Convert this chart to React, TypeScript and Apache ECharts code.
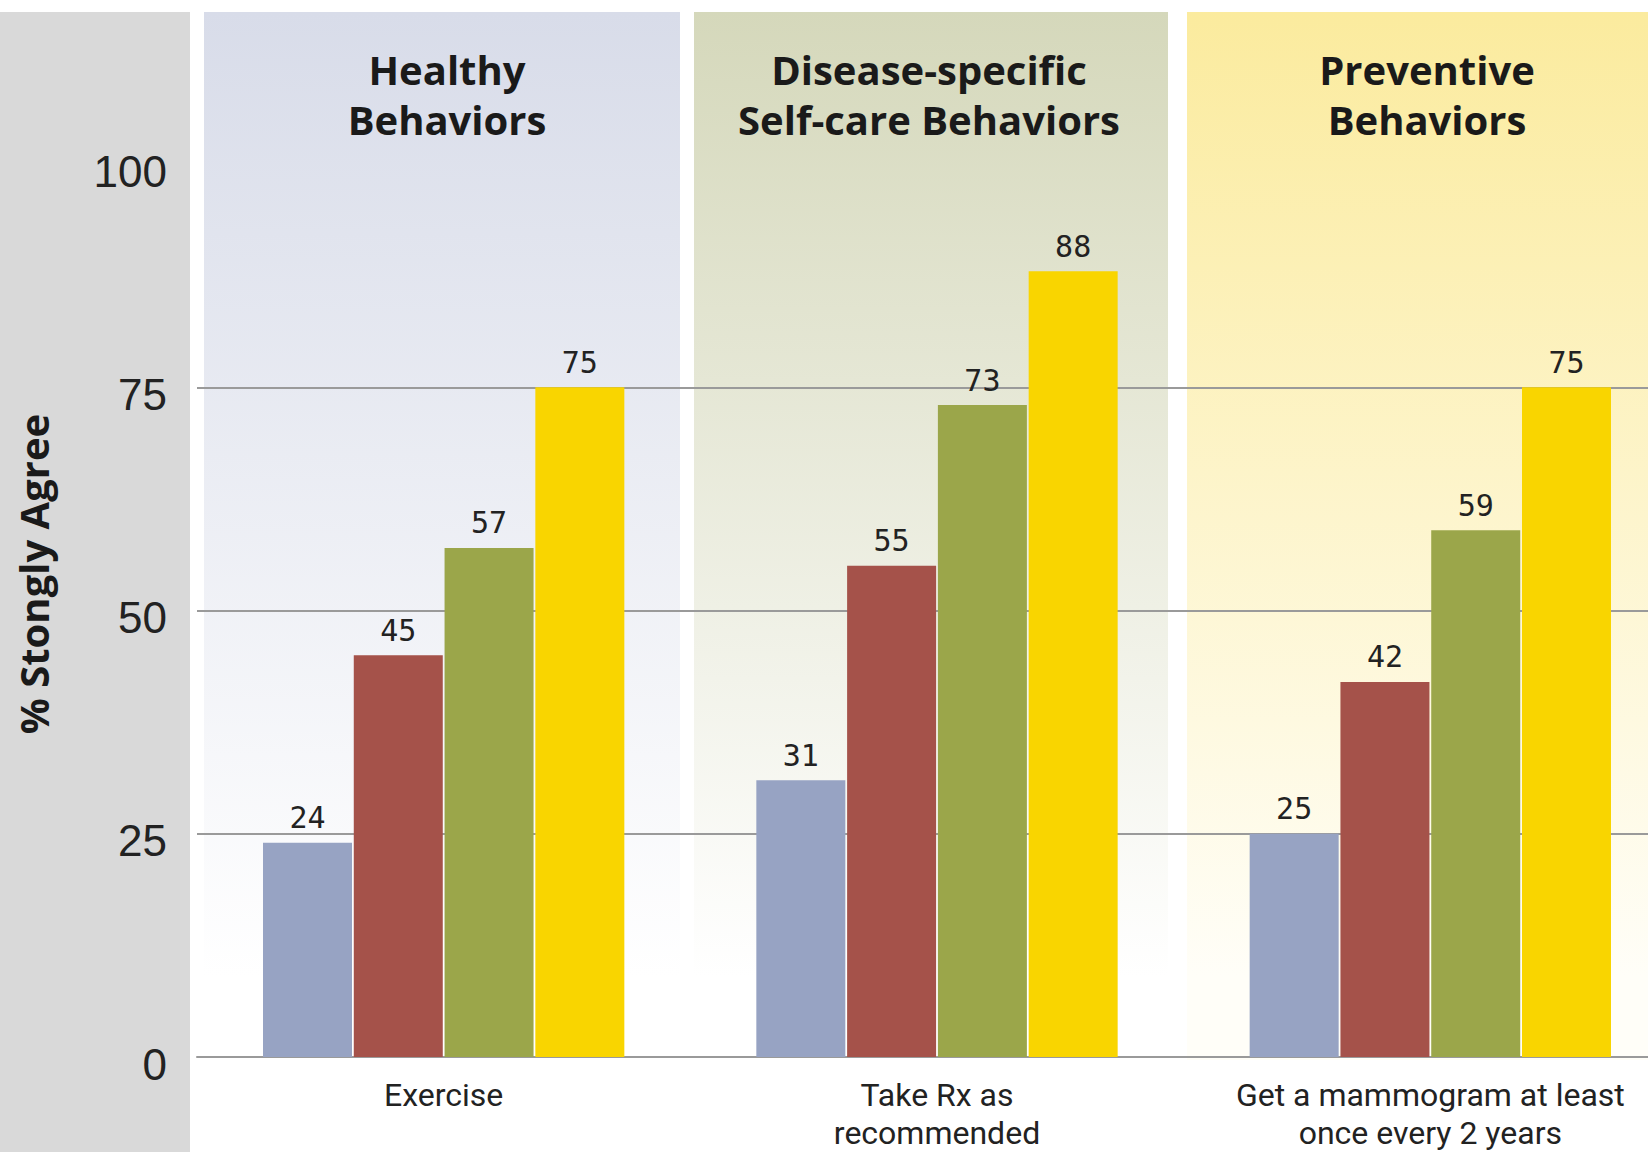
import React, { useEffect, useRef } from "react";
import * as echarts from "echarts";

const categories = ["Exercise", "Take Rx as\nrecommended", "Get a mammogram at least\nonce every 2 years"];
const panelTitles = ["Healthy\nBehaviors", "Disease-specific\nSelf-care Behaviors", "Preventive\nBehaviors"];
const seriesNames = ["Level 1", "Level 2", "Level 3", "Level 4"];
const level1 = [24, 31, 25];
const level2 = [45, 55, 42];
const level3 = [57, 73, 59];
const level4 = [75, 88, 75];
const yTicks = [0, 25, 50, 75, 100];
const yAxisTitle = "% Stongly Agree";

const barColors = ["#97a3c3", "#a5524a", "#9ba64a", "#f9d500"];

export default function App() {
  const ref = useRef<HTMLDivElement>(null);
  useEffect(() => {
    document.body.style.margin = "0";
    document.body.style.overflow = "hidden";
    document.documentElement.style.overflow = "hidden";
    if (!ref.current) return;
    const chart = echarts.init(ref.current, null, { renderer: "svg" });
    const values = [level1, level2, level3, level4];
    const grad = (top: string, bottom: string) =>
      new echarts.graphic.LinearGradient(0, 0, 0, 1, [
        { offset: 0, color: top },
        { offset: 0.92, color: bottom },
        { offset: 1, color: bottom },
      ]);
    const titleX = [447, 929, 1427];
    chart.setOption({
      animation: false,
      backgroundColor: "#ffffff",
      graphic: [
        { type: "rect", z: -10, shape: { x: 0, y: 12, width: 190, height: 1140 }, style: { fill: "#d9d9d9" } },
        { type: "rect", z: -10, shape: { x: 204, y: 12, width: 476, height: 1048 }, style: { fill: grad("#d8dce9", "#ffffff") } },
        { type: "rect", z: -10, shape: { x: 694, y: 12, width: 474, height: 1048 }, style: { fill: grad("#d5d8bb", "#ffffff") } },
        { type: "rect", z: -10, shape: { x: 1187, y: 12, width: 493, height: 1048 }, style: { fill: grad("#fbeb9e", "#fffef8") } },
        ...panelTitles.map((t, i) => ({
          type: "text",
          z: 10,
          x: titleX[i],
          y: 44,
          style: {
            text: t,
            align: "center",
            verticalAlign: "top",
            fontFamily: "'Open Sans', sans-serif",
            fontWeight: "bold",
            fontSize: 40,
            lineHeight: 50,
            fill: "#1a1a1a",
          },
        })),
        {
          type: "text",
          z: 10,
          x: 33,
          y: 574,
          rotation: Math.PI / 2,
          style: {
            text: yAxisTitle,
            align: "center",
            verticalAlign: "middle",
            fontFamily: "'Open Sans', sans-serif",
            fontWeight: "bold",
            fontSize: 40,
            fill: "#1a1a1a",
          },
        },
      ],
      grid: { left: 197, right: 3, top: 164, bottom: 93, containLabel: false },
      xAxis: {
        type: "category",
        data: categories,
        axisTick: { show: false },
        axisLine: { show: true, lineStyle: { color: "#9a9a9a", width: 2 } },
        axisLabel: {
          interval: 0,
          margin: 19,
          fontFamily: "Roboto, 'Open Sans', sans-serif",
          fontSize: 32,
          lineHeight: 38,
          color: "#222222",
        },
      },
      yAxis: {
        type: "value",
        min: yTicks[0],
        max: yTicks[yTicks.length - 1],
        interval: 25,
        axisLine: { show: false },
        axisTick: { show: false },
        axisLabel: {
          margin: 30,
          verticalAlign: "top",
          lineHeight: 14,
          fontFamily: "'Liberation Sans', sans-serif",
          fontSize: 44,
          color: "#222222",
        },
        splitLine: {
          show: true,
          lineStyle: { color: ["#9a9a9a", "#9a9a9a", "#9a9a9a", "#9a9a9a", "rgba(0,0,0,0)"], width: 2 },
        },
      },
      series: values.map((v, i) => ({
        name: seriesNames[i],
        type: "bar",
        data: v,
        barWidth: 89,
        barGap: "2%",
        itemStyle: { color: barColors[i] },
        label: {
          show: true,
          position: "top",
          distance: 10,
          fontFamily: "'DejaVu Sans Mono', monospace",
          fontSize: 30,
          color: "#222222",
        },
      })),
    });
    return () => chart.dispose();
  }, []);
  return <div ref={ref} style={{ position: "absolute", left: 0, top: 0, width: 1680, height: 1152 }} />;
}
